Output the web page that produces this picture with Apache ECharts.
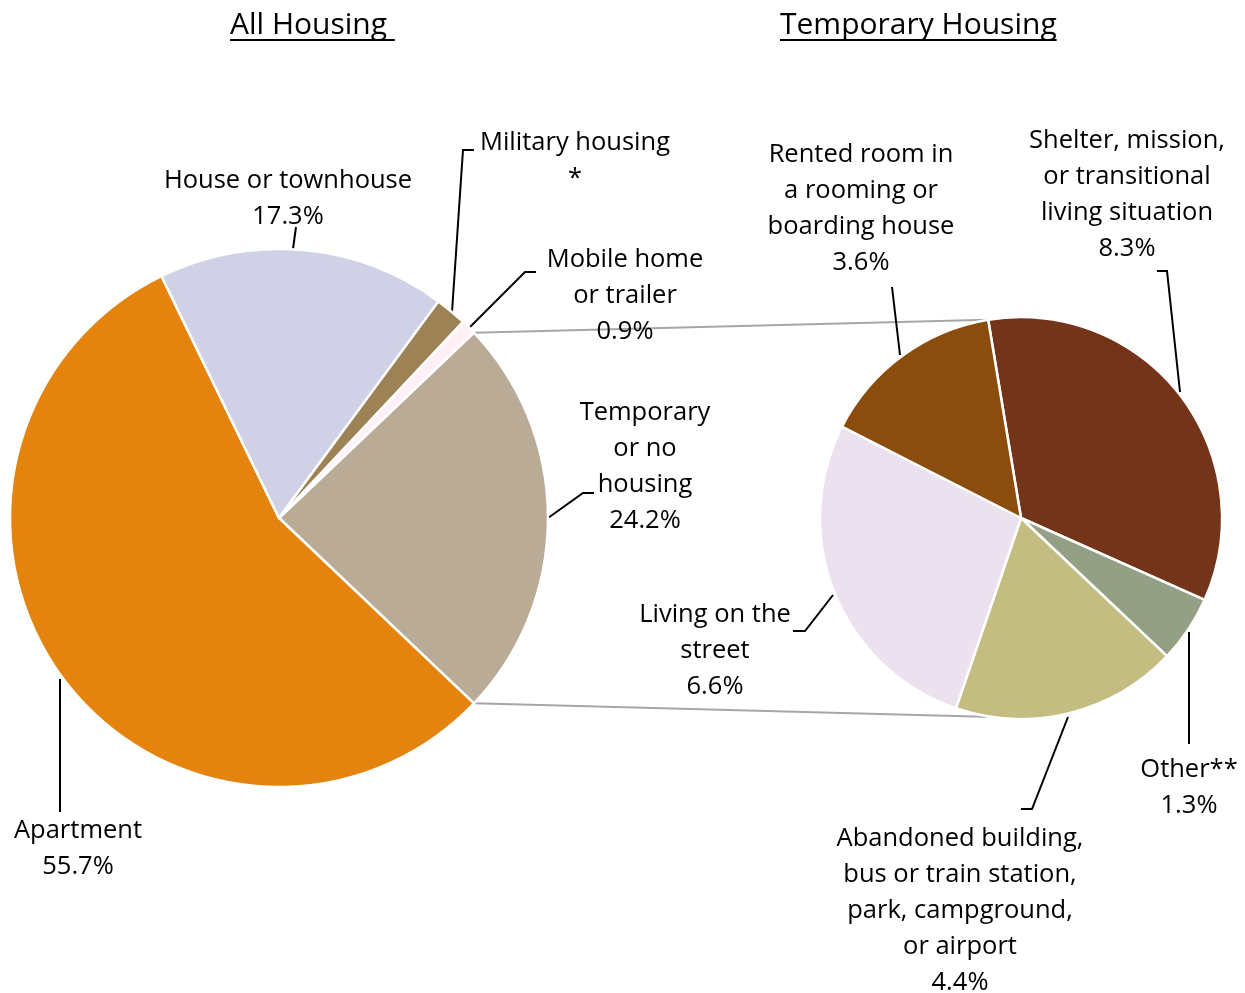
<!DOCTYPE html>
<html>
<head>
<meta charset="utf-8">
<script src="https://cdn.jsdelivr.net/npm/echarts@6/dist/echarts.min.js"></script>
<style>
html,body{margin:0;padding:0;background:#fff;}
#main{width:1245px;height:993px;}
</style>
</head>
<body>
<div id="main"></div>
<script>
// ---------- DATA ----------
const titles = ['All Housing ', 'Temporary Housing'];

const allCategories = ['Temporary or no housing', 'Apartment', 'House or townhouse', 'Military housing', 'Mobile home or trailer'];
const allValues = [24.2, 55.7, 17.3, 1.9, 0.9];          // military housing value suppressed in source (estimated)
const allSuppressed = [false, false, false, true, false];
const allLabelText = ['Temporary\nor no\nhousing', 'Apartment', 'House or townhouse', 'Military housing', 'Mobile home\nor trailer'];

const tempCategories = ['Shelter, mission, or transitional living situation', 'Other**', 'Abandoned building, bus or train station, park, campground, or airport', 'Living on the street', 'Rented room in a rooming or boarding house'];
const tempValues = [8.3, 1.3, 4.4, 6.6, 3.6];
const tempLabelText = ['Shelter, mission,\nor transitional\nliving situation', 'Other**', 'Abandoned building,\nbus or train station,\npark, campground,\nor airport', 'Living on the\nstreet', 'Rented room in\na rooming or\nboarding house'];

// ---------- STYLE / LAYOUT ----------
const allColors = ['#B9AB95', '#E5830F', '#D0D0E6', '#9D8256', '#FFF0F8'];
const tempColors = ['#73341A', '#94A085', '#C4BD81', '#EBE1EF', '#8B4D0D'];
const FONT = '"Open Sans", Lato, sans-serif';
const LEFT = {cx: 279, cy: 518, r: 269};
const RIGHT = {cx: 1021, cy: 518, r: 201};

// label block centres and leader lines (presentation only)
const allLabelLayout = [
  {x: 645, y: 467, line: [[548, 518], [583, 493], [594, 493]]},
  {x: 78, y: 849, line: [[60, 679], [60, 745], [60, 812]]},
  {x: 288, y: 199, line: [[293, 249], [294.5, 238], [296, 227]]},
  {x: 575, y: 161, line: [[452, 312], [463, 150], [474, 150]]},
  {x: 625, y: 296, line: [[470, 327], [525, 272], [536, 272]]}
];
const tempLabelLayout = [
  {x: 1127, y: 195, line: [[1180, 392], [1167, 271], [1157, 271]]},
  {x: 1189, y: 788, line: [[1189, 632], [1189, 688], [1189, 744]]},
  {x: 960, y: 911, line: [[1068, 717], [1032, 809], [1021, 809]]},
  {x: 715, y: 651, line: [[833, 595], [805, 631], [793, 631]]},
  {x: 861, y: 209, line: [[900, 355], [896, 321], [892, 287]]}
];

const chart = echarts.init(document.getElementById('main'), null, {renderer: 'canvas'});

function fmtPct(v) { return v.toFixed(1) + '%'; }

// start angles: temporary slice centred on the right side of the left pie
const allTotal = allValues.reduce((a, b) => a + b, 0);
const tempHalfAngle = allValues[0] / allTotal * 180;
const leftStart = tempHalfAngle;
const rightStart = 99.4;

const labelStyle = {
  color: '#000', fontSize: 25.5, fontFamily: FONT, lineHeight: 36, align: 'center'
};

function pieSeries(cats, vals, colors, texts, layout, center, start, suppressed) {
  return {
    type: 'pie',
    center: [center.cx, center.cy],
    radius: [0, center.r],
    startAngle: start,
    clockwise: true,
    avoidLabelOverlap: false,
    animation: false,
    emphasis: {disabled: true},
    itemStyle: {borderColor: '#fff', borderWidth: 2.5},
    data: cats.map((c, i) => ({
      name: c, value: vals[i],
      itemStyle: {color: colors[i]},
      label: {formatter: texts[i] + '\n' + (suppressed && suppressed[i] ? '*' : fmtPct(vals[i]))}
    })),
    label: Object.assign({show: true, position: 'outside'}, labelStyle),
    labelLine: {show: true, length: 10, length2: 10, smooth: false, lineStyle: {color: '#000', width: 2}},
    labelLayout: function (p) {
      const l = layout[p.dataIndex];
      return {x: l.x, y: l.y, align: 'center', verticalAlign: 'middle', labelLinePoints: l.line};
    }
  };
}

// connector lines between the two pies, derived from pie geometry
const rad = Math.PI / 180;
function onCircle(c, angDeg) { return [c.cx + c.r * Math.cos(angDeg * rad), c.cy - c.r * Math.sin(angDeg * rad)]; }
const lTop = onCircle(LEFT, tempHalfAngle), lBot = onCircle(LEFT, -tempHalfAngle);
const rTop = onCircle(RIGHT, rightStart), rBot = onCircle(RIGHT, -98);

// titles with underline
const TITLE_FONT = '30px ' + FONT;
const mctx = document.createElement('canvas').getContext('2d');
function titleGraphic(text, x0) {
  mctx.font = TITLE_FONT;
  const w = mctx.measureText(text).width;
  return [
    {type: 'text', left: x0, top: 10, style: {text: text, font: TITLE_FONT, fill: '#000'}},
    {type: 'rect', shape: {x: x0, y: 39, width: w, height: 2}, style: {fill: '#000'}}
  ];
}

chart.setOption({
  backgroundColor: '#fff',
  animation: false,
  graphic: [
    {type: 'line', z: 0, shape: {x1: lTop[0], y1: lTop[1], x2: rTop[0], y2: rTop[1]}, style: {stroke: '#A6A6A6', lineWidth: 2}},
    {type: 'line', z: 0, shape: {x1: lBot[0], y1: lBot[1], x2: rBot[0], y2: rBot[1]}, style: {stroke: '#A6A6A6', lineWidth: 2}}
  ].concat(titleGraphic(titles[0], 230)).concat(titleGraphic(titles[1], 780)),
  series: [
    pieSeries(allCategories, allValues, allColors, allLabelText, allLabelLayout, LEFT, leftStart, allSuppressed),
    pieSeries(tempCategories, tempValues, tempColors, tempLabelText, tempLabelLayout, RIGHT, rightStart, null)
  ]
});
</script>
</body>
</html>
